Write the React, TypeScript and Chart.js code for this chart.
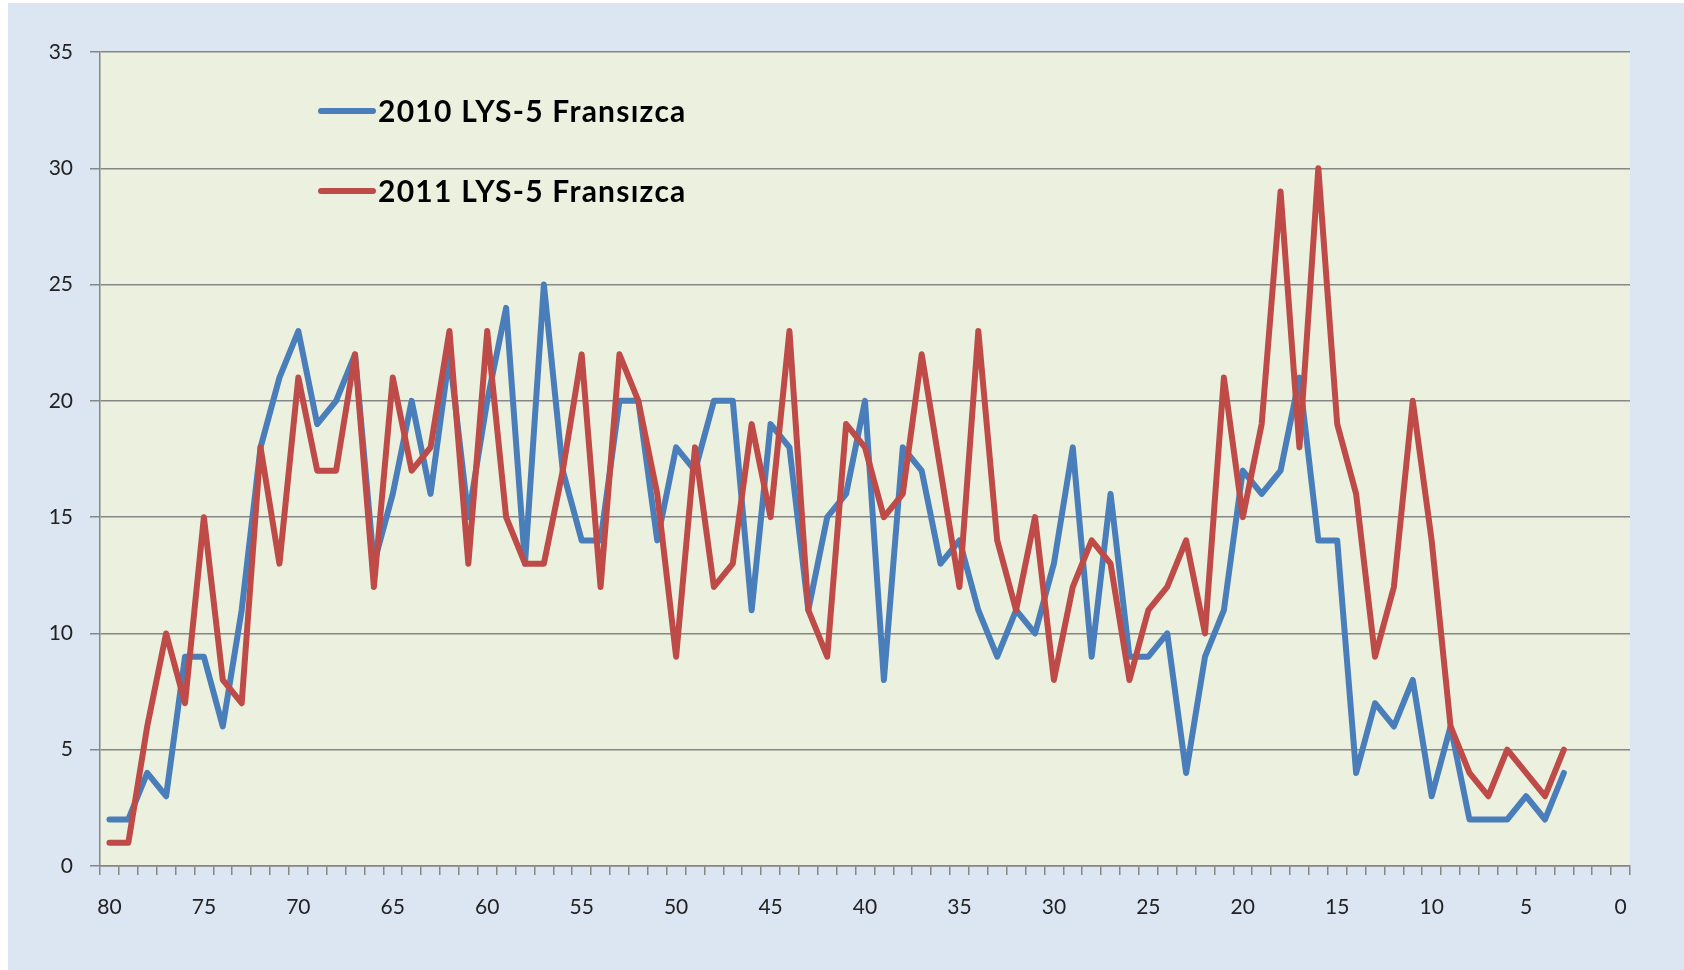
import React, { useEffect, useRef } from "react";
import { Chart, registerables } from "chart.js";

Chart.register(...registerables);

// Score categories (x axis, reversed: 80 down to 0)
const categories = [
  "80", "79", "78", "77", "76", "75", "74", "73", "72", "71",
  "70", "69", "68", "67", "66", "65", "64", "63", "62", "61",
  "60", "59", "58", "57", "56", "55", "54", "53", "52", "51",
  "50", "49", "48", "47", "46", "45", "44", "43", "42", "41",
  "40", "39", "38", "37", "36", "35", "34", "33", "32", "31",
  "30", "29", "28", "27", "26", "25", "24", "23", "22", "21",
  "20", "19", "18", "17", "16", "15", "14", "13", "12", "11",
  "10", "9", "8", "7", "6", "5", "4", "3", "2", "1", "0",
];

// Labels shown on the x axis
const tickLabels = ["80", "75", "70", "65", "60", "55", "50", "45", "40", "35", "30", "25", "20", "15", "10", "5", "0"];

// 2010 LYS-5 Fransızca (values for scores 80 ... 3)
const series2010 = [
  2, 2, 4, 3, 9, 9, 6, 11, 18, 21,
  23, 19, 20, 22, 13, 16, 20, 16, 22, 15,
  20, 24, 13, 25, 17, 14, 14, 20, 20, 14,
  18, 17, 20, 20, 11, 19, 18, 11, 15, 16,
  20, 8, 18, 17, 13, 14, 11, 9, 11, 10,
  13, 18, 9, 16, 9, 9, 10, 4, 9, 11,
  17, 16, 17, 21, 14, 14, 4, 7, 6, 8,
  3, 6, 2, 2, 2, 3, 2, 4,
];

// 2011 LYS-5 Fransızca (values for scores 80 ... 3)
const series2011 = [
  1, 1, 6, 10, 7, 15, 8, 7, 18, 13,
  21, 17, 17, 22, 12, 21, 17, 18, 23, 13,
  23, 15, 13, 13, 17, 22, 12, 22, 20, 16,
  9, 18, 12, 13, 19, 15, 23, 11, 9, 19,
  18, 15, 16, 22, 17, 12, 23, 14, 11, 15,
  8, 12, 14, 13, 8, 11, 12, 14, 10, 21,
  15, 19, 29, 18, 30, 19, 16, 9, 12, 20,
  14, 6, 4, 3, 5, 4, 3, 5,
];

const seriesNames = ["2010 LYS-5 Fransızca", "2011 LYS-5 Fransızca"];
const seriesColors = ["#4a7ebb", "#be4b48"];

const yMin = 0;
const yMax = 35;
const yStep = 5;

const FONT = "Lato, 'Open Sans', 'DejaVu Sans', sans-serif";

const plotBgPlugin = {
  id: "plotBg",
  beforeDraw(chart: any) {
    const { ctx, chartArea } = chart;
    ctx.save();
    ctx.fillStyle = "#ebf1de";
    ctx.fillRect(chartArea.left, chartArea.top, chartArea.right - chartArea.left, chartArea.bottom - chartArea.top);
    ctx.restore();
  },
};

const innerLegendPlugin = {
  id: "innerLegend",
  afterDraw(chart: any) {
    const { ctx, chartArea } = chart;
    ctx.save();
    ctx.font = `bold 30px ${FONT}`;
    try {
      (ctx as any).letterSpacing = "1.25px";
    } catch (e) {
      /* ignore */
    }
    ctx.textBaseline = "middle";
    ctx.textAlign = "left";
    chart.data.datasets.forEach((ds: any, i: number) => {
      const y = chartArea.top + 59 + i * 80;
      const x0 = chartArea.left + 221;
      ctx.strokeStyle = ds.borderColor;
      ctx.lineWidth = 6;
      ctx.lineCap = "round";
      ctx.beginPath();
      ctx.moveTo(x0, y);
      ctx.lineTo(x0 + 52, y);
      ctx.stroke();
      ctx.fillStyle = "#000000";
      ctx.fillText(ds.label, x0 + 57, y + 1);
    });
    ctx.restore();
  },
};

export default function App() {
  const canvasRef = useRef<HTMLCanvasElement | null>(null);

  useEffect(() => {
    const canvas = canvasRef.current;
    if (!canvas) return;
    const chart = new Chart(canvas, {
      type: "line",
      data: {
        labels: categories,
        datasets: [
          {
            label: seriesNames[0],
            data: series2010,
            borderColor: seriesColors[0],
            backgroundColor: seriesColors[0],
            borderWidth: 6,
            borderJoinStyle: "round",
            borderCapStyle: "round",
            pointRadius: 0,
            tension: 0,
            fill: false,
            order: 2,
          },
          {
            label: seriesNames[1],
            data: series2011,
            borderColor: seriesColors[1],
            backgroundColor: seriesColors[1],
            borderWidth: 6,
            borderJoinStyle: "round",
            borderCapStyle: "round",
            pointRadius: 0,
            tension: 0,
            fill: false,
            order: 1,
          },
        ],
      },
      options: {
        responsive: false,
        animation: false,
        devicePixelRatio: 1,
        layout: { padding: { top: 49, right: 54, left: 0, bottom: 0 } },
        plugins: {
          legend: { display: false },
          tooltip: { enabled: false },
          title: { display: false },
        },
        scales: {
          x: {
            type: "category",
            offset: true,
            grid: {
              offset: true,
              drawOnChartArea: false,
              drawTicks: true,
              tickLength: 9,
              color: "#868686",
              lineWidth: 1.5,
            },
            border: { display: true, color: "#868686", width: 1.5 },
            ticks: {
              autoSkip: false,
              maxRotation: 0,
              minRotation: 0,
              padding: 20,
              color: "#222222",
              font: { family: FONT, size: 21 },
              callback: (value: any, index: number) => {
                const lab = categories[index];
                return tickLabels.includes(lab) ? lab : "";
              },
            },
            afterFit: (scale: any) => {
              scale.height = 104;
            },
          },
          y: {
            min: yMin,
            max: yMax,
            grid: {
              color: "#868686",
              lineWidth: 1.5,
              drawTicks: true,
              tickLength: 10,
            },
            border: { display: true, color: "#868686", width: 1.5 },
            ticks: {
              stepSize: yStep,
              padding: 17,
              color: "#222222",
              font: { family: FONT, size: 21 },
            },
            afterFit: (scale: any) => {
              scale.width = 92;
            },
          },
        },
      },
      plugins: [plotBgPlugin, innerLegendPlugin],
    });
    return () => chart.destroy();
  }, []);

  return (
    <div
      style={{
        position: "absolute",
        left: 8,
        top: 3,
        width: 1676,
        height: 967,
        background: "#dce6f2",
        overflow: "hidden",
      }}
    >
      <canvas ref={canvasRef} width={1676} height={967} style={{ display: "block" }} />
    </div>
  );
}
